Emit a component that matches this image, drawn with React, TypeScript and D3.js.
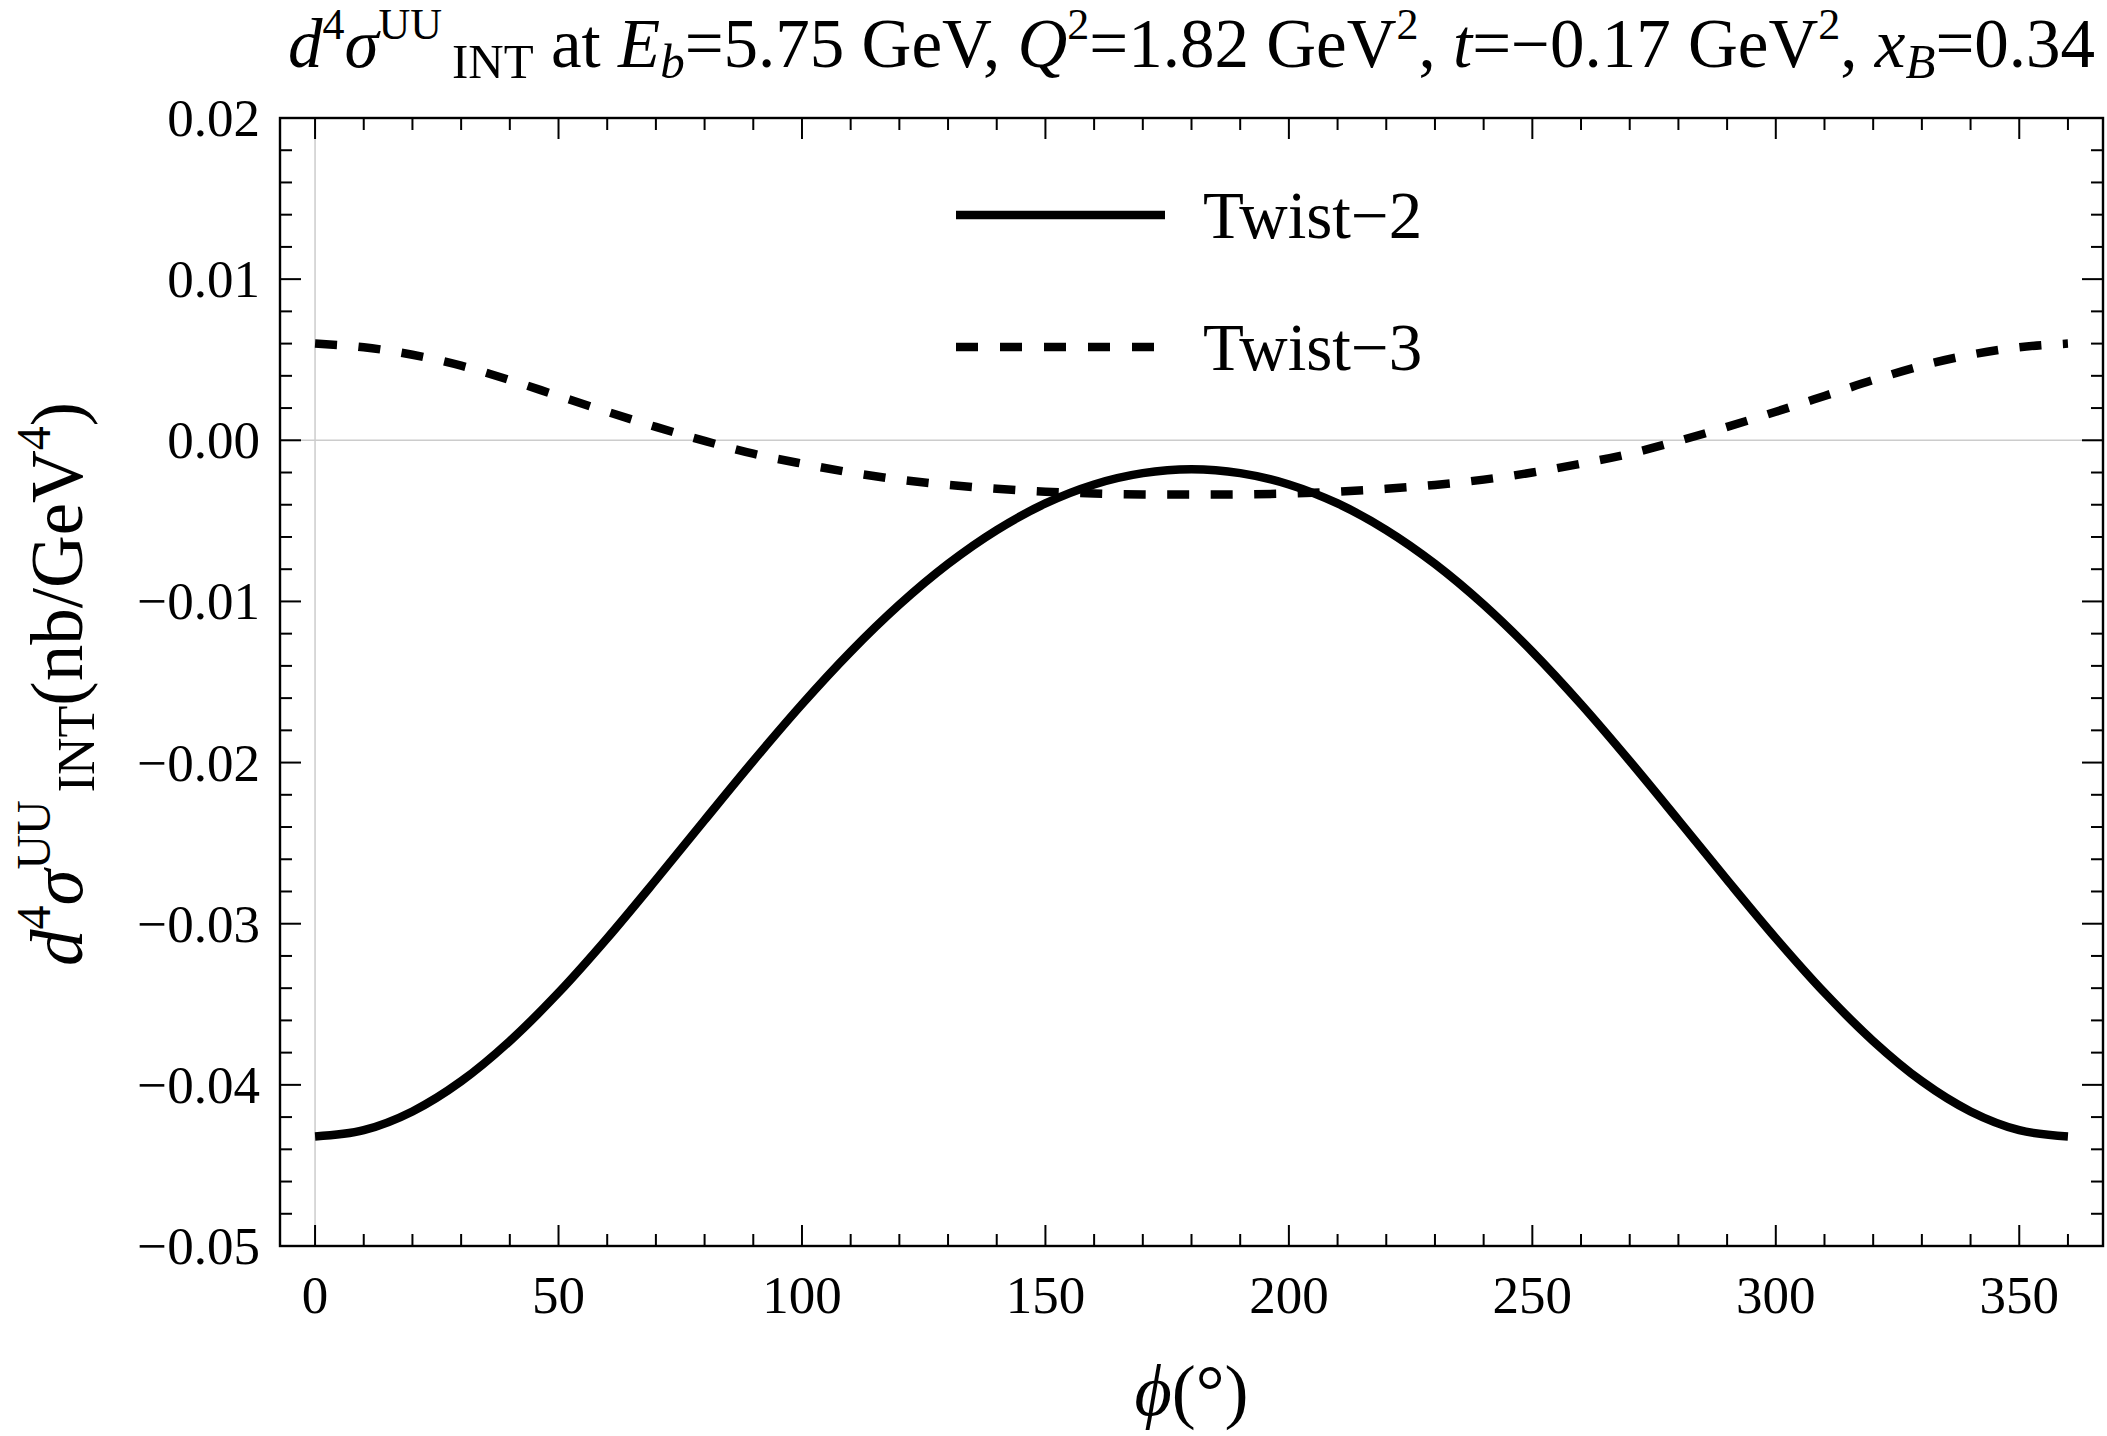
import React from "react";
import * as d3 from "d3";

// ---------- data ----------
const PHI: number[] = [
  0, 10, 20, 30, 40, 50, 60, 70, 80, 90, 100, 110, 120, 130, 140, 150, 160, 170, 180,
  190, 200, 210, 220, 230, 240, 250, 260, 270, 280, 290, 300, 310, 320, 330, 340, 350, 360,
];

const TWIST2: number[] = [
  -0.0432, -0.04281, -0.04165, -0.03978, -0.03728, -0.03428, -0.0309, -0.02728, -0.02357,
  -0.0199, -0.01638, -0.01312, -0.0102, -0.00767, -0.00557, -0.00392, -0.00274, -0.00204,
  -0.0018,
  -0.00204, -0.00274, -0.00392, -0.00557, -0.00767, -0.0102, -0.01312, -0.01638, -0.0199,
  -0.02357, -0.02728, -0.0309, -0.03428, -0.03728, -0.03978, -0.04165, -0.04281, -0.0432,
];

const TWIST3: number[] = [
  0.006, 0.00577, 0.00531, 0.00463, 0.00374, 0.00275, 0.00177, 0.00083, -0.00004,
  -0.00083, -0.00145, -0.002, -0.00244, -0.00277, -0.00301, -0.00319, -0.0033, -0.00336,
  -0.00337,
  -0.00336, -0.0033, -0.00319, -0.00301, -0.00277, -0.00244, -0.002, -0.00145, -0.00083,
  -0.00004, 0.00083, 0.00177, 0.00275, 0.00374, 0.00463, 0.00531, 0.00577, 0.006,
];

const SERIES_NAMES: string[] = ["Twist\u22122", "Twist\u22123"];

const X_MAJOR: number[] = [0, 50, 100, 150, 200, 250, 300, 350];
const X_MAJOR_LABELS: string[] = ["0", "50", "100", "150", "200", "250", "300", "350"];
const Y_MAJOR: number[] = [0.02, 0.01, 0, -0.01, -0.02, -0.03, -0.04, -0.05];
const Y_MAJOR_LABELS: string[] = [
  "0.02", "0.01", "0.00", "\u22120.01", "\u22120.02", "\u22120.03", "\u22120.04", "\u22120.05",
];

type Seg = { t: string; i?: boolean; pos?: "sup" | "sub"; dx?: number };

const TITLE: Seg[] = [
  { t: "d", i: true },
  { t: "4", pos: "sup" },
  { t: "\u03c3", i: true },
  { t: "UU", pos: "sup" },
  { t: "INT", pos: "sub", dx: 10 },
  { t: " at " },
  { t: "E", i: true },
  { t: "b", i: true, pos: "sub" },
  { t: "=5.75 GeV, " },
  { t: "Q", i: true },
  { t: "2", pos: "sup" },
  { t: "=1.82 GeV" },
  { t: "2", pos: "sup" },
  { t: ", " },
  { t: "t", i: true },
  { t: "=\u22120.17 GeV" },
  { t: "2", pos: "sup" },
  { t: ", " },
  { t: "x", i: true },
  { t: "B", i: true, pos: "sub" },
  { t: "=0.34" },
];

const YLABEL: Seg[] = [
  { t: "d", i: true },
  { t: "4", pos: "sup" },
  { t: "\u03c3", i: true },
  { t: "UU", pos: "sup" },
  { t: "INT", pos: "sub", dx: 8 },
  { t: "(nb/GeV" },
  { t: "4", pos: "sup" },
  { t: ")" },
];

const XLABEL: Seg[] = [{ t: "\u03d5", i: true }, { t: "(\u00b0)" }];

// ---------- layout ----------
const W = 2107;
const H = 1436;
const L = 280, R = 2103, T = 118, B = 1246;
const FONT = "'Liberation Serif', 'Times New Roman', Times, serif";

type Sizes = { main: number; sup: number; sub: number; supShift: number; subShift: number };

const TITLE_SZ: Sizes = { main: 69, sup: 44, sub: 49, supShift: -28, subShift: 11 };
const YLAB_SZ: Sizes = { main: 73, sup: 48, sub: 52, supShift: -32, subShift: 12 };
const XLAB_SZ: Sizes = { main: 72, sup: 48, sub: 52, supShift: -32, subShift: 12 };

function renderSegs(segs: Seg[], sz: Sizes) {
  let cur = 0;
  return segs.map((s, k) => {
    const off = s.pos === "sup" ? sz.supShift : s.pos === "sub" ? sz.subShift : 0;
    const dy = off - cur;
    cur = off;
    return (
      <tspan
        key={k}
        dy={dy}
        dx={s.dx || 0}
        fontStyle={s.i ? "italic" : "normal"}
        fontSize={s.pos === "sup" ? sz.sup : s.pos === "sub" ? sz.sub : sz.main}
      >
        {s.t}
      </tspan>
    );
  });
}

export default function App() {
  const x = d3.scaleLinear().domain([-7.2, 367.2]).range([L, R]);
  const y = d3.scaleLinear().domain([-0.05, 0.02]).range([B, T]);

  const line = d3
    .line<number>()
    .x((_, i) => x(PHI[i]))
    .y((v) => y(v))
    .curve(d3.curveMonotoneX);

  const xMinor = d3.range(0, 361, 10).filter((v) => v % 50 !== 0);
  const yMinor = d3
    .range(-25, 11)
    .map((k) => k * 0.002)
    .filter((_, k) => (k - 25) % 5 !== 0);

  const MAJ = 21;
  const MIN = 12;
  const tickW = 2;

  return (
    <svg
      width={W}
      height={H}
      viewBox={`0 0 ${W} ${H}`}
      style={{ position: "absolute", left: 0, top: 0, background: "#fff" }}
      fontFamily={FONT}
    >
      <rect x={0} y={0} width={W} height={H} fill="#fff" />
      {/* axes through origin */}
      <line x1={x(0)} x2={x(0)} y1={T} y2={B} stroke="#cccccc" strokeWidth={1.5} />
      <line x1={L} x2={R} y1={y(0)} y2={y(0)} stroke="#cccccc" strokeWidth={1.5} />

      {/* curves */}
      <path d={line(TWIST2) || ""} fill="none" stroke="#000" strokeWidth={8.5} />
      <path
        d={line(TWIST3) || ""}
        fill="none"
        stroke="#000"
        strokeWidth={8.5}
        strokeDasharray="22,21.5"
      />

      {/* ticks */}
      <g stroke="#000" strokeWidth={tickW}>
        {X_MAJOR.map((v) => (
          <g key={"xM" + v}>
            <line x1={x(v)} x2={x(v)} y1={B} y2={B - MAJ} />
            <line x1={x(v)} x2={x(v)} y1={T} y2={T + MAJ} />
          </g>
        ))}
        {xMinor.map((v) => (
          <g key={"xm" + v}>
            <line x1={x(v)} x2={x(v)} y1={B} y2={B - MIN} />
            <line x1={x(v)} x2={x(v)} y1={T} y2={T + MIN} />
          </g>
        ))}
        {Y_MAJOR.map((v) => (
          <g key={"yM" + v}>
            <line x1={L} x2={L + MAJ} y1={y(v)} y2={y(v)} />
            <line x1={R} x2={R - MAJ} y1={y(v)} y2={y(v)} />
          </g>
        ))}
        {yMinor.map((v, k) => (
          <g key={"ym" + k}>
            <line x1={L} x2={L + MIN} y1={y(v)} y2={y(v)} />
            <line x1={R} x2={R - MIN} y1={y(v)} y2={y(v)} />
          </g>
        ))}
      </g>

      {/* frame */}
      <rect
        x={L}
        y={T}
        width={R - L}
        height={B - T}
        fill="none"
        stroke="#000"
        strokeWidth={2.4}
      />

      {/* tick labels */}
      <g fontSize={53} fill="#000">
        {X_MAJOR.map((v, k) => (
          <text key={"xl" + v} x={x(v)} y={1313} textAnchor="middle">
            {X_MAJOR_LABELS[k]}
          </text>
        ))}
        {Y_MAJOR.map((v, k) => (
          <text key={"yl" + v} x={260} y={y(v) + 18} textAnchor="end">
            {Y_MAJOR_LABELS[k]}
          </text>
        ))}
      </g>

      {/* legend */}
      <g>
        <line x1={956} x2={1165} y1={215} y2={215} stroke="#000" strokeWidth={8.5} />
        <line
          x1={956}
          x2={1165}
          y1={347}
          y2={347}
          stroke="#000"
          strokeWidth={8.5}
          strokeDasharray="22,22"
        />
        <text x={1203} y={238} fontSize={67}>
          {SERIES_NAMES[0]}
        </text>
        <text x={1203} y={370} fontSize={67}>
          {SERIES_NAMES[1]}
        </text>
      </g>

      {/* title */}
      <text x={(L + R) / 2} y={67} textAnchor="middle" style={{ whiteSpace: "pre" }}>
        {renderSegs(TITLE, TITLE_SZ)}
      </text>

      {/* x label */}
      <text x={(L + R) / 2} y={1415} textAnchor="middle" style={{ whiteSpace: "pre" }}>
        {renderSegs(XLABEL, XLAB_SZ)}
      </text>

      {/* y label */}
      <text
        transform={`translate(82, ${(T + B) / 2 + 2}) rotate(-90)`}
        textAnchor="middle"
        style={{ whiteSpace: "pre" }}
      >
        {renderSegs(YLABEL, YLAB_SZ)}
      </text>
    </svg>
  );
}
